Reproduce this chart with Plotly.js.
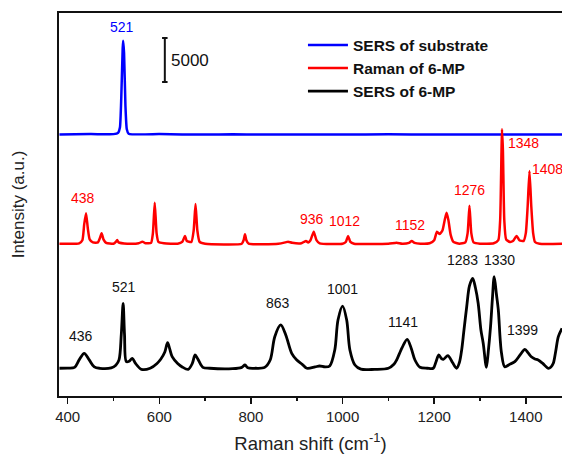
<!DOCTYPE html>
<html>
<head>
<meta charset="utf-8">
<script src="https://cdn.plot.ly/plotly-3.0.1.min.js"></script>
<style>html,body{margin:0;padding:0;background:#fff;}#chart{width:562px;height:454px;}</style>
</head>
<body>
<div id="chart"></div>
<script>
// Series names
const seriesNames = ['SERS of substrate', 'Raman of 6-MP', 'SERS of 6-MP'];

// SERS of substrate (blue)
const blueX = [382, 450, 500, 510, 514, 517, 520, 521, 523, 526, 529, 533, 600, 650, 700, 760, 820, 900, 1000, 1100, 1200, 1300, 1400, 1479];
const blueY = [29700, 29750, 29750, 29900, 30500, 34000, 39500, 40360, 39000, 33000, 30300, 29800, 29750, 29720, 29700, 29740, 29700, 29720, 29700, 29730, 29700, 29720, 29700, 29700];

// Raman of 6-MP (red)
const redX = [382, 400, 425, 432, 436, 440, 444, 448, 455, 466, 470, 474, 478, 484, 500, 505, 508, 511, 530, 555, 563, 570, 582, 586, 590, 594, 598, 610, 640, 650, 656, 660, 670, 675, 679, 683, 688, 700, 780, 784, 787, 790, 795, 860, 875, 881, 890, 910, 917, 920, 925, 930, 937, 943, 950, 1000, 1007, 1012, 1017, 1025, 1100, 1118, 1130, 1145, 1151, 1157, 1170, 1190, 1200, 1206, 1212, 1218, 1223, 1227, 1231, 1236, 1242, 1255, 1268, 1273, 1277, 1281, 1286, 1300, 1330, 1340, 1344, 1347, 1348, 1350, 1353, 1357, 1365, 1372, 1380, 1386, 1395, 1400, 1404, 1408, 1412, 1416, 1420, 1430, 1479];
const redY = [17300, 17300, 17350, 17700, 19500, 20750, 19000, 17800, 17450, 17450, 17900, 18480, 17800, 17400, 17300, 17500, 17720, 17450, 17300, 17350, 17530, 17350, 17400, 18500, 21960, 18500, 17500, 17350, 17300, 17500, 18180, 17600, 17500, 18800, 21810, 18800, 17500, 17300, 17300, 17700, 18370, 17700, 17300, 17300, 17450, 17530, 17400, 17350, 17550, 17610, 17450, 17700, 18670, 17700, 17350, 17300, 17500, 18180, 17500, 17300, 17300, 17420, 17300, 17400, 17610, 17400, 17300, 17350, 17700, 18670, 18400, 18800, 20000, 20820, 20000, 18300, 17500, 17300, 17450, 18500, 21620, 18500, 17450, 17300, 17350, 17700, 20000, 28000, 30300, 28000, 20000, 17800, 17500, 17600, 18180, 17700, 17600, 18500, 21500, 25560, 21500, 18500, 17500, 17300, 17300];

// SERS of 6-MP (black)
const blackX = [382, 400, 415, 425, 436, 447, 458, 470, 495, 505, 512, 517, 521, 524, 528, 534, 541, 548, 561, 580, 595, 603, 612, 618, 623, 628, 640, 650, 663, 672, 678, 684, 695, 710, 760, 780, 787, 793, 810, 830, 842, 852, 865, 876, 889, 900, 912, 922, 940, 950, 962, 972, 983, 990, 1000, 1009, 1016, 1027, 1040, 1070, 1100, 1112, 1118, 1130, 1141, 1150, 1158, 1169, 1185, 1198, 1204, 1210, 1216, 1220, 1230, 1240, 1249, 1255, 1260, 1265, 1271, 1277, 1284, 1290, 1296, 1302, 1307, 1314, 1318, 1323, 1327, 1331, 1336, 1340, 1344, 1347, 1354, 1365, 1376, 1388, 1398, 1405, 1412, 1420, 1427, 1437, 1449, 1455, 1460, 1465, 1471, 1479];
const blackY = [3150, 3170, 3250, 4100, 4850, 4100, 3300, 3150, 3200, 3500, 4100, 7000, 10530, 7000, 3900, 3950, 4280, 3700, 3030, 3150, 3700, 4170, 5000, 6060, 5300, 4470, 3700, 3300, 3030, 3700, 4660, 4200, 3260, 3150, 3100, 3250, 3520, 3200, 3150, 3250, 4090, 6740, 8070, 6930, 4850, 4090, 3600, 3150, 3300, 3410, 3300, 3410, 5230, 8630, 10220, 8630, 5230, 3520, 3050, 3030, 3150, 3600, 4090, 5500, 6440, 5400, 4090, 3260, 3150, 3150, 3900, 4660, 4250, 4170, 4580, 3800, 3150, 3800, 5230, 7500, 10140, 12500, 13370, 12300, 10530, 7500, 5990, 3260, 5000, 7870, 11000, 13550, 11500, 9770, 6500, 4850, 3330, 3600, 3900, 4700, 5300, 4900, 4460, 4200, 4090, 3700, 3150, 3300, 3710, 5000, 6740, 7690];

// Peak labels
const blueLabels = ['521'];
const redLabels = ['438', '936', '1012', '1152', '1276', '1348', '1408'];
const blackLabels = ['436', '521', '863', '1001', '1141', '1283', '1330', '1399'];
const scaleBarValue = 5000;

const font = 'Arial, "Liberation Sans", sans-serif';

const traces = [
  {x: blueX, y: blueY, name: seriesNames[0], mode: 'lines', line: {color: '#0000FF', width: 2.5, shape: 'spline', smoothing: 0.5}},
  {x: redX, y: redY, name: seriesNames[1], mode: 'lines', line: {color: '#FF0000', width: 2.5, shape: 'spline', smoothing: 0.5}},
  {x: blackX, y: blackY, name: seriesNames[2], mode: 'lines', line: {color: '#000000', width: 2.8, shape: 'spline', smoothing: 0.9}}
];

// label anchor positions (data coordinates)
const bluePos = [[518, 41920]];
const redPos = [[434, 22490], [933, 20070], [1004, 19880], [1148, 19430], [1276, 23400], [1396, 28700], [1447, 25750]];
const blackPos = [[429, 6820], [523, 12420], [858, 10600], [1000, 12120], [1132, 8370], [1262, 15420], [1342, 15420], [1393, 7460]];

const annotations = [];
function addLabels(labels, pos, color) {
  labels.forEach((t, i) => annotations.push({
    x: pos[i][0], y: pos[i][1], text: t, showarrow: false,
    xanchor: 'center', yanchor: 'middle',
    font: {family: font, size: 14, color: color}
  }));
}
addLabels(blueLabels, bluePos, '#0000FF');
addLabels(redLabels, redPos, '#FF0000');
addLabels(blackLabels, blackPos, '#111111');

// scale bar
const sbX = 612, sbTop = 40670, sbBottom = sbTop - scaleBarValue;
annotations.push({x: sbX + 9, y: (sbTop + sbBottom) / 2, text: String(scaleBarValue), showarrow: false,
  xanchor: 'left', yanchor: 'middle', font: {family: font, size: 17, color: '#111'}});
const shapes = [
  {type: 'line', xref: 'x', yref: 'y', x0: sbX, x1: sbX, y0: sbBottom, y1: sbTop, line: {color: '#111', width: 2}},
  {type: 'line', xref: 'x', yref: 'y', x0: sbX - 6, x1: sbX + 6, y0: sbTop, y1: sbTop, line: {color: '#111', width: 2}},
  {type: 'line', xref: 'x', yref: 'y', x0: sbX - 6, x1: sbX + 6, y0: sbBottom, y1: sbBottom, line: {color: '#111', width: 2}}
];

const layout = {
  width: 562, height: 454,
  margin: {l: 59, r: 0, t: 13, b: 58},
  paper_bgcolor: '#fff', plot_bgcolor: '#fff',
  showlegend: true,
  legend: {x: 0.485, y: 0.96, xanchor: 'left', yanchor: 'top', bgcolor: 'rgba(0,0,0,0)',
    font: {family: font, size: 15.5, color: '#111', weight: 'bold'}, tracegroupgap: 0, itemwidth: 40},
  xaxis: {
    range: [381, 1479], showgrid: false, zeroline: false,
    showline: true, linecolor: '#111', linewidth: 2, mirror: true,
    ticks: 'outside', ticklen: 6, tickwidth: 1.5, tickcolor: '#111',
    tick0: 400, dtick: 200,
    minor: {dtick: 100, ticks: 'outside', ticklen: 3, tickwidth: 1.5, tickcolor: '#111'},
    tickfont: {family: font, size: 15, color: '#222'},
    title: {text: 'Raman shift (cm<sup>-1</sup>)', font: {family: font, size: 18.5, color: '#222'}, standoff: 19},
    automargin: false
  },
  yaxis: {
    range: [0, 43510], showgrid: false, zeroline: false,
    showline: true, linecolor: '#111', linewidth: 2, mirror: false,
    ticks: '', showticklabels: false,
    title: {text: 'Intensity (a.u.)', font: {family: font, size: 17, color: '#222'}, standoff: 28},
    automargin: false
  },
  annotations: annotations,
  shapes: shapes
};

Plotly.newPlot('chart', traces, layout, {staticPlot: true, displayModeBar: false});
</script>
</body>
</html>
